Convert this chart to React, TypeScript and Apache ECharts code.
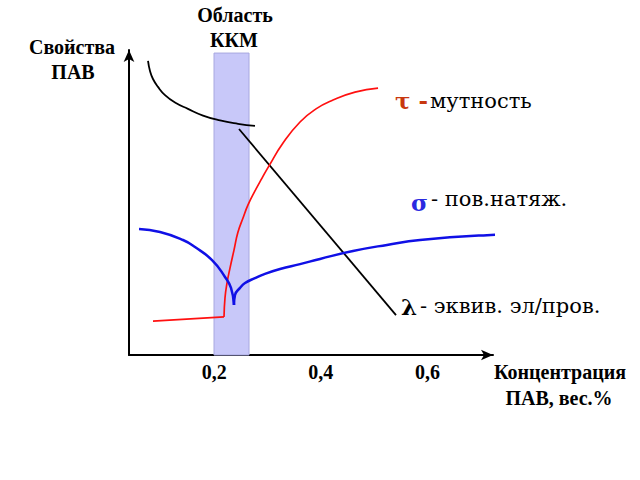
import React, { useEffect, useRef } from "react";
import * as echarts from "echarts";

// x = концентрация ПАВ, вес.% ; y = свойства (условные единицы 0..100)
const xTickValues = [0.2, 0.4, 0.6];
const cmcRange = [0.1995, 0.2652];

const lambdaArc: [number, number][] = [
  [0.0757, 96.4], [0.0794, 93.1], [0.085, 90.5], [0.0944, 87.9],
  [0.1076, 85.2], [0.1263, 82.8], [0.1507, 80.7], [0.1789, 78.5],
  [0.2108, 76.9], [0.2445, 75.8], [0.2764, 75.1],
];
const lambdaLine: [number, number][] = [
  [0.2464, 74.1], [0.541, 13.1],
];
const tauFlat: [number, number][] = [
  [0.085, 11.1], [0.2183, 12.5],
];
const tauRise: [number, number][] = [
  [0.2183, 12.5], [0.2201, 18.7], [0.2239, 23.6], [0.2295, 28.5],
  [0.237, 34.4], [0.2445, 40.3], [0.2539, 44.9], [0.2633, 49.2],
  [0.2764, 53.8], [0.2896, 58.0], [0.3027, 62.0], [0.329, 69.5],
  [0.3609, 76.4], [0.3909, 80.7], [0.4228, 83.6], [0.4641, 86.2],
  [0.5073, 87.5],
];
const sigmaLeft: [number, number][] = [
  [0.0588, 41.3], [0.0982, 40.3], [0.1413, 37.7], [0.1638, 35.4],
  [0.1958, 31.1], [0.2201, 25.6], [0.2314, 22.0], [0.237, 16.4],
];
const sigmaRight: [number, number][] = [
  [0.237, 16.4], [0.2389, 19.7], [0.2483, 22.0], [0.2577, 23.6],
  [0.2764, 25.2], [0.2952, 26.6], [0.3234, 28.2], [0.3609, 29.8],
  [0.3984, 31.5], [0.4603, 34.1], [0.5241, 36.1], [0.5861, 37.7],
  [0.7118, 39.3], [0.8357, 40.0],
];

const BOLD_SERIF = "Liberation Serif";
const TXT_SERIF = "DejaVu Serif";

export default function App() {
  const ref = useRef<HTMLDivElement>(null);

  useEffect(() => {
    if (!ref.current) return;
    const chart = echarts.init(ref.current, null, { renderer: "svg" });

    const lineSeries = (name: string, data: [number, number][], color: string, width: number, smooth: number | boolean) => ({
      type: "line",
      name,
      data,
      showSymbol: false,
      symbol: "none",
      smooth,
      clip: false,
      z: 3,
      lineStyle: { color, width },
    });

    const label = (text: string, x: number, y: number) => ({
      type: "text",
      x,
      y,
      style: {
        text,
        fontFamily: BOLD_SERIF,
        fontWeight: "bold",
        fontSize: 20,
        fill: "#000",
        align: "center",
        verticalAlign: "middle",
      },
    });

    const note = (text: string, x: number, y: number, color: string, bold: boolean, size: number) => ({
      type: "text",
      x,
      y,
      style: {
        text,
        fontFamily: TXT_SERIF,
        fontWeight: bold ? "bold" : "normal",
        fontSize: size,
        fill: color,
        align: "left",
        verticalAlign: "middle",
      },
    });

    chart.setOption({
      animation: false,
      backgroundColor: "#ffffff",
      grid: { left: 129, right: 147, top: 50, bottom: 125 },
      xAxis: {
        type: "value",
        min: 0.04,
        max: 0.723,
        axisLine: {
          show: true,
          lineStyle: { color: "#000", width: 2 },
          symbol: ["none", "arrow"],
          symbolSize: [8, 12],
        },
        axisTick: { show: false },
        splitLine: { show: false },
        axisLabel: {
          show: true,
          customValues: xTickValues,
          formatter: (v: number) => String(v).replace(".", ","),
          color: "#000",
          fontWeight: "bold",
          fontSize: 20,
          fontFamily: BOLD_SERIF,
          margin: 7,
        },
      },
      yAxis: {
        type: "value",
        min: 0,
        max: 100,
        axisLine: {
          show: true,
          lineStyle: { color: "#000", width: 2 },
          symbol: ["none", "arrow"],
          symbolSize: [8, 12],
        },
        axisTick: { show: false },
        splitLine: { show: false },
        axisLabel: { show: false },
      },
      series: [
        {
          type: "line",
          name: "Область ККМ",
          data: [],
          clip: false,
          z: 1,
          markArea: {
            silent: true,
            itemStyle: { color: "#c8c8f9", opacity: 1, borderColor: "#a8a8e0", borderWidth: 1 },
            data: [[{ coord: [cmcRange[0], 0] }, { coord: [cmcRange[1], 99.0] }]],
          },
          markLine: {
            silent: true,
            symbol: "none",
            label: { show: false },
            lineStyle: { color: "#000", width: 1.6, type: "solid" },
            data: [
              [{ coord: [cmcRange[0], 0] }, { coord: [cmcRange[0], 100.7] }],
              [{ coord: [cmcRange[1], 0] }, { coord: [cmcRange[1], 100.7] }],
            ],
          },
        },
        lineSeries("λ-arc", lambdaArc, "#000000", 1.8, 0.5),
        lineSeries("λ", lambdaLine, "#000000", 1.8, false),
        lineSeries("τ-flat", tauFlat, "#ff1010", 1.7, false),
        lineSeries("τ", tauRise, "#ff1010", 1.7, 0.5),
        lineSeries("σ-left", sigmaLeft, "#1010e6", 2.5, 0.5),
        lineSeries("σ", sigmaRight, "#1010e6", 2.5, 0.5),
      ],
      graphic: [
        label("Свойства", 72, 47),
        label("ПАВ", 73, 72),
        label("Область", 235, 15),
        label("ККМ", 234, 40),
        label("Концентрация", 560, 372),
        label("ПАВ, вес.%", 559, 398),
        note("τ -", 395, 100, "#c8380f", true, 23),
        note("мутность", 430, 101, "#000", false, 21),
        note("σ", 411, 202, "#2a2ae0", true, 23),
        note("- пов.натяж.", 431, 199, "#000", false, 21),
        note("λ", 401, 306, "#000", true, 23),
        note("- эквив. эл/пров.", 420, 306, "#000", false, 21),
      ],
    });

    return () => chart.dispose();
  }, []);

  return (
    <div
      ref={ref}
      style={{ position: "fixed", left: 0, top: 0, width: 640, height: 480, background: "#fff" }}
    />
  );
}
